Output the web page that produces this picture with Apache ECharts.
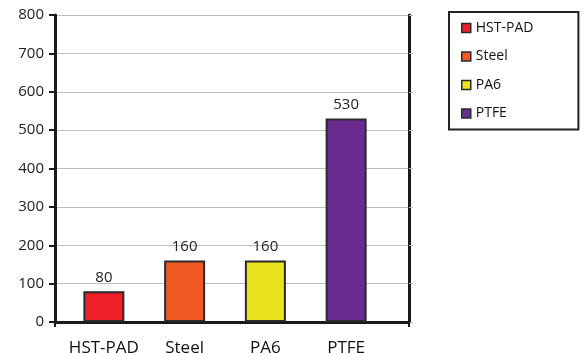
<!DOCTYPE html>
<html><head><meta charset="utf-8">
<script src="https://cdn.jsdelivr.net/npm/echarts@6/dist/echarts.min.js"></script>
<style>html,body{margin:0;padding:0;background:#fff}#c{width:585px;height:353px}</style>
</head><body><div id="c"></div>
<script>
const categories = ['HST-PAD', 'Steel', 'PA6', 'PTFE'];
const values = [80, 160, 160, 530];
const colors = ['#ee2027', '#f15a22', '#e8e21f', '#6a2c8e'];
const yTicks = [0, 100, 200, 300, 400, 500, 600, 700, 800];

const font = 'Open Sans';
const chart = echarts.init(document.getElementById('c'));
const series = categories.map((name, i) => ({
  name: name,
  type: 'bar',
  xAxisIndex: 1, yAxisIndex: 2,
  barWidth: 41,
  barGap: '-100%',
  data: values.map((v, j) => (j === i ? v : '-')),
  itemStyle: { color: colors[i], borderColor: '#2a2a2a', borderWidth: 2 },
  label: { show: true, position: 'top', distance: 6, color: '#222', fontSize: 15, fontFamily: font },
  emphasis: { disabled: true }
}));

chart.setOption({
  animation: false,
  textStyle: { fontFamily: font },
  grid: [
    { left: 55, right: 176, top: 15, bottom: 31, outerBoundsMode: 'none', containLabel: false },
    { left: 63.5, right: 198.5, top: 15, bottom: 31, outerBoundsMode: 'none', containLabel: false }
  ],
  legend: {
    orient: 'vertical', left: 449, top: 12,
    data: categories,
    icon: 'rect', itemWidth: 9, itemHeight: 9, itemGap: 14.5,
    padding: [9, 45, 9, 12],
    borderColor: '#222', borderWidth: 2,
    textStyle: { fontSize: 14, color: '#111', fontFamily: font },
    itemStyle: { borderColor: '#2a2a2a', borderWidth: 1.5 }
  },
  xAxis: [
    { gridIndex: 0, type: 'category', data: [''],
      axisLine: { lineStyle: { color: '#1a1a1a', width: 3 } },
      axisTick: { show: true, length: 5, lineStyle: { color: '#1a1a1a', width: 2 } },
      axisLabel: { show: false } },
    { gridIndex: 1, type: 'category', data: categories,
      axisLine: { show: false }, axisTick: { show: false },
      axisLabel: { color: '#111', fontSize: 17, margin: 18, interval: 0, fontFamily: font } }
  ],
  yAxis: [
    { gridIndex: 0, type: 'value', min: 0, max: 800, interval: 100,
      axisLine: { show: true, lineStyle: { color: '#1a1a1a', width: 3 } },
      axisTick: { show: true, length: 6, lineStyle: { color: '#1a1a1a', width: 2 } },
      axisLabel: { color: '#222', fontSize: 15, margin: 11, fontFamily: font,
        formatter: v => yTicks.includes(v) ? String(v) : '' },
      splitLine: { lineStyle: { color: '#bdbdbd', width: 1 } } },
    { gridIndex: 0, type: 'value', min: 0, max: 800, interval: 100, position: 'right',
      axisLine: { show: true, lineStyle: { color: '#1a1a1a', width: 3 } },
      axisTick: { show: true, length: 4, lineStyle: { color: '#bdbdbd', width: 1 } },
      axisLabel: { show: false }, splitLine: { show: false } },
    { gridIndex: 1, type: 'value', min: 0, max: 800, interval: 100,
      axisLine: { show: false }, axisTick: { show: false }, axisLabel: { show: false },
      splitLine: { show: false } }
  ],
  series: series
});
</script></body></html>
